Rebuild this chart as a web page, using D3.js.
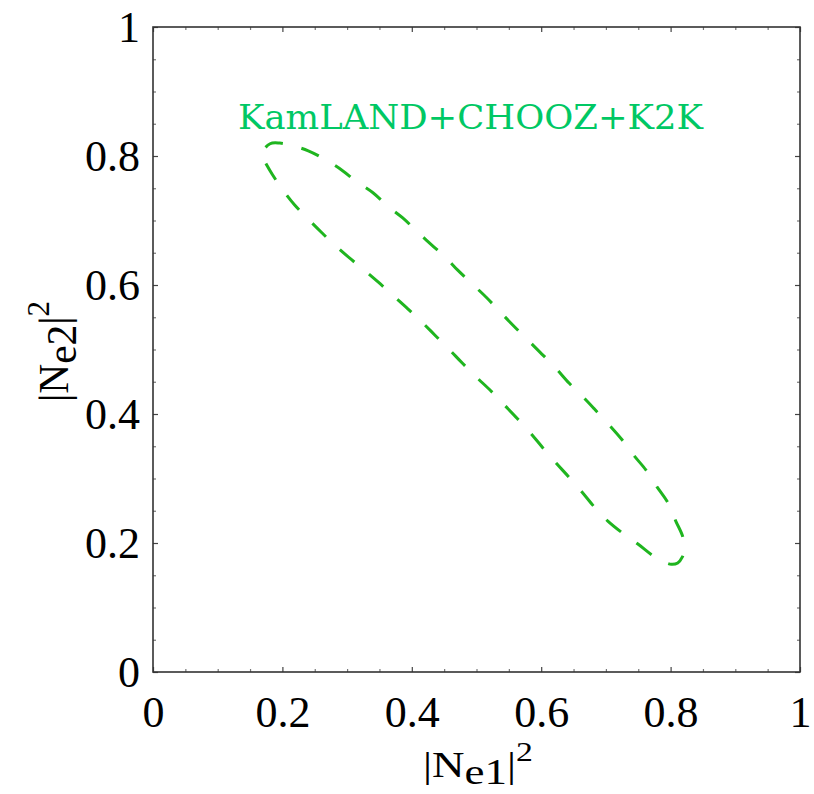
<!DOCTYPE html>
<html>
<head>
<meta charset="utf-8">
<script src="https://cdn.jsdelivr.net/npm/d3@7/dist/d3.min.js"></script>
<style>
  html, body { margin: 0; padding: 0; background: #fff; }
  svg { display: block; }
</style>
</head>
<body>
<svg id="chart" width="814" height="794"></svg>
<script>
// Allowed region boundary (KamLAND+CHOOZ+K2K): |N_e1|^2 vs |N_e2|^2, traced around the contour
const contourX = [0.167, 0.181, 0.196, 0.212, 0.240, 0.267, 0.292, 0.315, 0.340, 0.363,
  0.386, 0.410, 0.431, 0.453, 0.471, 0.493, 0.515, 0.535, 0.556, 0.578,
  0.598, 0.620, 0.643, 0.665, 0.682, 0.705, 0.725, 0.743, 0.762, 0.779,
  0.796, 0.808, 0.819, 0.821, 0.818, 0.811, 0.801, 0.787, 0.773, 0.750,
  0.725, 0.703, 0.682, 0.663, 0.643, 0.623, 0.603, 0.583, 0.563, 0.543,
  0.522, 0.500, 0.478, 0.457, 0.437, 0.417, 0.396, 0.374, 0.351, 0.329,
  0.306, 0.283, 0.261, 0.240, 0.219, 0.201, 0.184, 0.174];
const contourY = [0.802, 0.819, 0.820, 0.817, 0.808, 0.794, 0.778, 0.760, 0.743, 0.722,
  0.704, 0.681, 0.662, 0.642, 0.623, 0.602, 0.581, 0.560, 0.538, 0.516,
  0.496, 0.474, 0.448, 0.426, 0.408, 0.383, 0.360, 0.336, 0.313, 0.287,
  0.262, 0.234, 0.209, 0.189, 0.178, 0.169, 0.167, 0.172, 0.180, 0.198,
  0.216, 0.234, 0.256, 0.279, 0.302, 0.324, 0.347, 0.371, 0.393, 0.414,
  0.436, 0.457, 0.479, 0.501, 0.521, 0.541, 0.561, 0.581, 0.602, 0.621,
  0.640, 0.660, 0.681, 0.702, 0.724, 0.747, 0.772, 0.789];

const majorTicks = [0, 0.2, 0.4, 0.6, 0.8, 1];
const tickLabels = ["0", "0.2", "0.4", "0.6", "0.8", "1"];
const minorTicks = [0.05, 0.1, 0.15, 0.25, 0.3, 0.35, 0.45, 0.5, 0.55, 0.65, 0.7, 0.75, 0.85, 0.9, 0.95];
const regionLabel = "KamLAND+CHOOZ+K2K";

const svg = d3.select("#chart");
const plotL = 153, plotR = 800, plotT = 27, plotB = 672;

const x = d3.scaleLinear().domain([0, 1]).range([plotL, plotR]);
const y = d3.scaleLinear().domain([0, 1]).range([plotB, plotT]);

const serif = "'Liberation Serif', 'Times New Roman', serif";
const labelFmt = d => tickLabels[majorTicks.indexOf(d)];

function styleTicks(g, color) {
  g.select(".domain").remove();
  g.selectAll(".tick line").attr("stroke", color).attr("stroke-width", 1.2);
}
// inward minor ticks on all four sides
const sides = [
  { ax: d3.axisBottom(x), tr: `translate(0,${plotB})` },
  { ax: d3.axisTop(x), tr: `translate(0,${plotT})` },
  { ax: d3.axisLeft(y), tr: `translate(${plotL},0)` },
  { ax: d3.axisRight(y), tr: `translate(${plotR},0)` }
];
sides.forEach(s => {
  svg.append("g").attr("transform", s.tr)
    .call(s.ax.tickValues(minorTicks).tickSize(-3).tickFormat(""))
    .call(g => styleTicks(g, "#777"));
});
// inward major ticks on the top and right edges (unlabelled)
svg.append("g").attr("transform", `translate(0,${plotT})`)
  .call(d3.axisTop(x).tickValues(majorTicks).tickSize(-5).tickFormat(""))
  .call(g => styleTicks(g, "#444"));
svg.append("g").attr("transform", `translate(${plotR},0)`)
  .call(d3.axisRight(y).tickValues(majorTicks).tickSize(-5).tickFormat(""))
  .call(g => styleTicks(g, "#444"));

// labelled bottom and left axes
const xAxis = svg.append("g").attr("transform", `translate(0,${plotB})`)
  .call(d3.axisBottom(x).tickValues(majorTicks).tickSize(-5).tickPadding(24).tickFormat(labelFmt));
styleTicks(xAxis, "#444");
xAxis.selectAll(".tick text").attr("font-family", serif).attr("font-size", 44).attr("fill", "#000");

const yAxis = svg.append("g").attr("transform", `translate(${plotL},0)`)
  .call(d3.axisLeft(y).tickValues(majorTicks).tickSize(-5).tickPadding(13).tickFormat(labelFmt));
styleTicks(yAxis, "#444");
yAxis.selectAll(".tick text").attr("font-family", serif).attr("font-size", 44).attr("fill", "#000")
  .attr("dy", "0.34em");

// frame
svg.append("rect")
  .attr("x", plotL).attr("y", plotT)
  .attr("width", plotR - plotL).attr("height", plotB - plotT)
  .attr("fill", "none").attr("stroke", "#333").attr("stroke-width", 1.6);

// dashed contour
const pts = contourX.map((v, i) => [v, contourY[i]]);
const line = d3.line().x(d => x(d[0])).y(d => y(d[1])).curve(d3.curveCatmullRomClosed.alpha(0.5));
svg.append("path")
  .attr("d", line(pts))
  .attr("fill", "none")
  .attr("stroke", "#1fb51f")
  .attr("stroke-width", 3)
  .attr("stroke-dasharray", "19,19")
  .attr("stroke-dashoffset", 6);

// region label
svg.append("text")
  .attr("x", 238).attr("y", 129)
  .attr("font-family", "'DejaVu Serif', serif")
  .attr("font-size", 33)
  .attr("textLength", 465)
  .attr("lengthAdjust", "spacingAndGlyphs")
  .attr("fill", "#00c864")
  .text(regionLabel);

// axis titles: |N_e1|^2 and |N_e2|^2
function axisTitle(g, sub) {
  const t = g.append("text").attr("font-family", serif).attr("font-size", 36).attr("fill", "#000");
  t.append("tspan").text("|N");
  t.append("tspan").attr("dy", 7).text(sub);
  t.append("tspan").attr("dy", -7).text("|");
  t.append("tspan").attr("dy", -16).attr("font-size", 27).text("2");
  return t;
}
const xt = svg.append("g").attr("transform", "translate(423,777) scale(1.25,1)");
axisTitle(xt, "e1");

const yt = svg.append("g").attr("transform", "translate(68,402) rotate(-90) scale(1.15,1.2)");
axisTitle(yt, "e2");
</script>
</body>
</html>
